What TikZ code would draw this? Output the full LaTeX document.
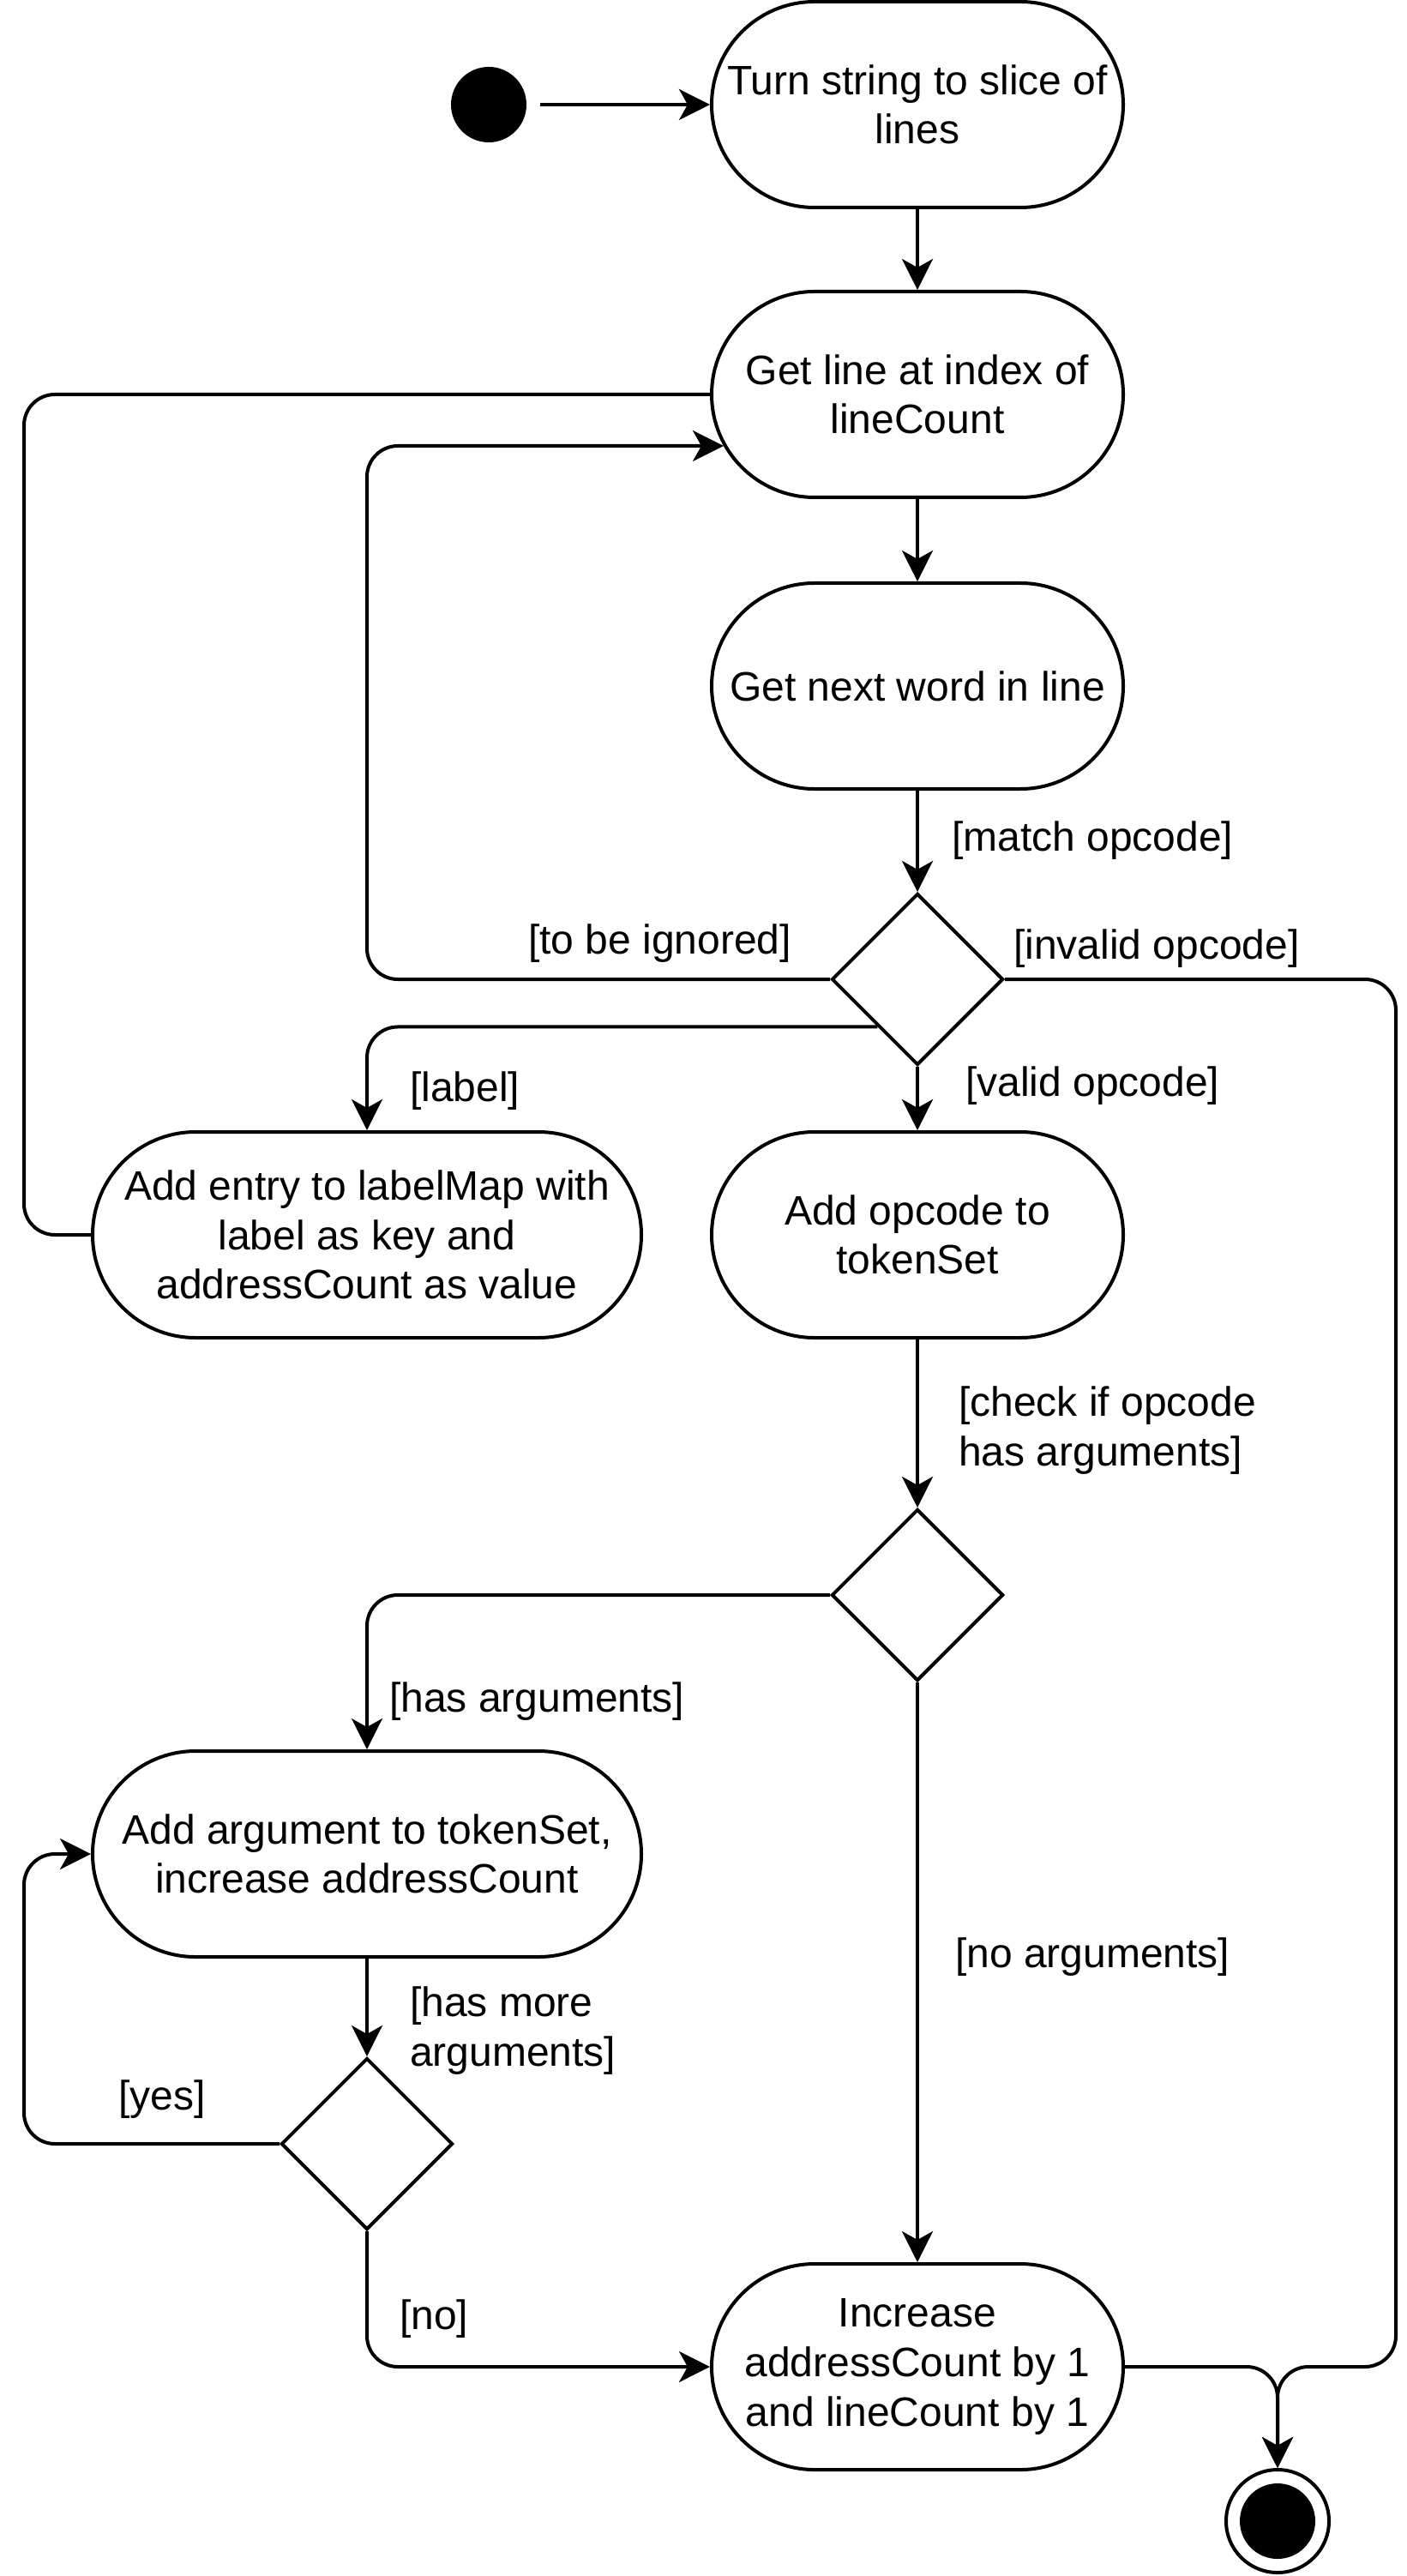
\documentclass[tikz,border=0pt]{standalone}
\usepackage{fontspec}
\setmainfont{Liberation Sans}
\usetikzlibrary{shapes.geometric,arrows.meta}

\begin{document}
\begin{tikzpicture}[x=1pt, y=-1pt, line width=1pt,
    every node/.style={font=\fontsize{12}{14.4}\selectfont},
    action/.style={draw, rectangle, rounded corners=30pt, minimum width=120pt, minimum height=60pt, inner sep=0pt, align=center},
    wideaction/.style={action, minimum width=160pt},
    choice/.style={draw, diamond, minimum width=50pt, minimum height=50pt, inner sep=0pt},
    startdot/.style={circle, fill, minimum size=22pt, inner sep=0pt},
    enddot/.style={circle, draw, minimum size=30pt, inner sep=0pt},
    guard/.style={anchor=west, inner sep=0pt, align=left},
    flow/.style={-{Stealth[length=9pt,width=9pt,inset=2.5pt]}, rounded corners=9pt},
    link/.style={rounded corners=9pt}]

\useasboundingbox (0,0) rectangle (410,751);

% -------- actions -----------
\node  (start)    [startdot]    at  (142.5, 30.5)  {};
\node  (turn)     [action]      at  (267.5, 30.5)  {Turn string to slice of\\lines};
\node  (getline)  [action]      at  (267.5, 115)   {Get line at index of\\lineCount};
\node  (getword)  [action]      at  (267.5, 200)   {Get next word in line};
\node  (dOp)      [choice]      at  (267.5, 285.5) {};
\node  (addEntry) [wideaction]  at  (107, 360)     {Add entry to labelMap with\\label as key and\\addressCount as value};
\node  (addOp)    [action]      at  (267.5, 360)   {Add opcode to\\tokenSet};
\node  (dArgs)    [choice]      at  (267.5, 465)   {};
\node  (addArg)   [wideaction]  at  (107, 540.5)   {Add argument to tokenSet,\\increase addressCount};
\node  (dMore)    [choice]      at  (107, 625)     {};
\node  (incr)     [action]      at  (267.5, 690)   {Increase\\addressCount by 1\\and lineCount by 1};
\node  (stop)     [enddot]      at  (372.5, 735)   {};
\fill  (stop) circle (11pt);

\coordinate  (lft)  at  (7, 0);
\coordinate  (rgt)  at  (407, 0);
\coordinate  (ignoreIn)  at  ([xshift=4pt,yshift=-15pt]getline.west);

% -------- guards -----------
\node  (gMatch)    [guard]  at  (277, 245)    {[match opcode]};
\node  (gIgnore)   [guard]  at  (153.5, 275)  {[to be ignored]};
\node  (gInvalid)  [guard]  at  (295, 276.5)  {[invalid opcode]};
\node  (gLabel)    [guard]  at  (119, 318)    {[label]};
\node  (gValid)    [guard]  at  (281, 316.5)  {[valid opcode]};
\node  (gCheck)    [guard]  at  (279, 417)    {[check if opcode\\has arguments]};
\node  (gHasArgs)  [guard]  at  (113, 496)    {[has arguments]};
\node  (gNoArgs)   [guard]  at  (278, 570.5)  {[no arguments]};
\node  (gMore)     [guard]  at  (119, 592)    {[has more\\arguments]};
\node  (gYes)      [guard]  at  (34, 612)     {[yes]};
\node  (gNo)       [guard]  at  (116, 676)    {[no]};

% -------- flows -----------
\draw   [flow, shorten <=3.5pt]   (start.east) -- (turn.west);
\draw   [flow]   (turn) -- (getline);
\draw   [flow]   (getline) -- (getword);
\draw   [flow]   (getword) -- (dOp);
\draw   [flow]   (dOp.west) -| (addEntry.north |- ignoreIn) -- (ignoreIn);
\draw   [flow]   (dOp.east) -| (rgt |- incr.east) -| (stop.north);
\draw   [flow]   (dOp.230) -| (addEntry.north);
\draw   [flow]   (dOp) -- (addOp);
\draw   [link]   (addEntry.west) -| (lft |- getline.west) -- (getline.west);
\draw   [flow]   (addOp) -- (dArgs);
\draw   [flow]   (dArgs.west) -| (addArg.north);
\draw   [flow]   (dArgs) -- (incr);
\draw   [flow]   (addArg) -- (dMore);
\draw   [flow]   (dMore.west) -| (lft |- addArg.west) -- (addArg.west);
\draw   [flow]   (dMore.south) |- (incr.west);
\draw   [flow]   (incr.east) -| (stop.north);

\end{tikzpicture}
\end{document}
